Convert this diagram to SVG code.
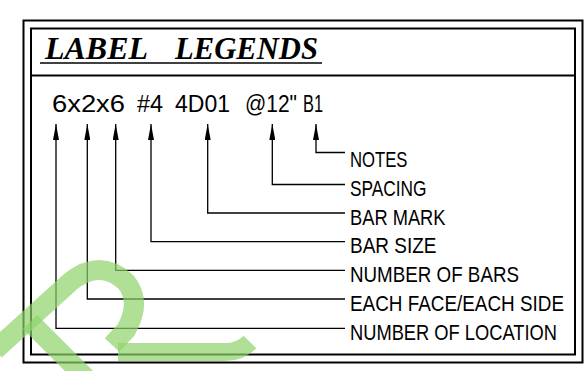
<svg xmlns="http://www.w3.org/2000/svg" width="588" height="371" viewBox="0 0 588 371">
<style>
.frame{fill:none;stroke:#000;stroke-width:2}
.conn{fill:none;stroke:#000;stroke-width:1.3}
.title{font-family:"Liberation Serif",serif;font-weight:bold;font-style:italic;font-size:32px;fill:#000}
.code{font-family:"Liberation Sans",Arial,sans-serif;font-size:23px;fill:#000}
.lbl{font-family:"Liberation Sans",Arial,sans-serif;font-size:19px;fill:#000}
</style>
<defs>
<marker id="arr" markerUnits="userSpaceOnUse" markerWidth="16" markerHeight="6" viewBox="0 0 16 6" refX="16" refY="3" orient="auto-start-reverse">
<path d="M0,0 L16,3 L0,6 z" fill="#000"/>
</marker>
</defs>
<rect fill="#fff" x="0" y="0" width="588" height="371"/>
<g id="frame">
<rect class="frame" x="23.5" y="20.5" width="559" height="342"/>
<rect class="frame" x="31" y="28.5" width="544" height="326"/>
<line class="frame" x1="31" y1="75.5" x2="575" y2="75.5"/>
</g>
<g id="title">
<text class="title" x="45" y="58.5" textLength="103" lengthAdjust="spacingAndGlyphs">LABEL</text>
<text class="title" x="175" y="58.5" textLength="143" lengthAdjust="spacingAndGlyphs">LEGENDS</text>
<line x1="40" y1="63" x2="322" y2="63" stroke="#000" stroke-width="1.5"/>
</g>
<g id="code">
<text class="code" x="52" y="112" textLength="73" lengthAdjust="spacingAndGlyphs">6x2x6</text>
<text class="code" x="137" y="112" textLength="26" lengthAdjust="spacingAndGlyphs">#4</text>
<text class="code" x="175" y="112" textLength="55" lengthAdjust="spacingAndGlyphs">4D01</text>
<text class="code" x="245" y="112" textLength="52" lengthAdjust="spacingAndGlyphs">@12"</text>
<text class="code" x="303" y="112" textLength="20" lengthAdjust="spacingAndGlyphs">B1</text>
</g>
<g id="connectors">
<path class="conn" marker-start="url(#arr)" d="M316,124 V152.5 H345"/>
<path class="conn" marker-start="url(#arr)" d="M272.3,124 V184.5 H345"/>
<path class="conn" marker-start="url(#arr)" d="M207.7,124 V213 H345"/>
<path class="conn" marker-start="url(#arr)" d="M151,124 V241.7 H345"/>
<path class="conn" marker-start="url(#arr)" d="M115.7,124 V270.3 H345"/>
<path class="conn" marker-start="url(#arr)" d="M87.3,124 V299 H345"/>
<path class="conn" marker-start="url(#arr)" d="M56,124 V328.3 H345"/>
</g>
<g id="labels">
<text class="lbl" transform="translate(350,166.5) scale(1,1.21)" textLength="57.5" lengthAdjust="spacingAndGlyphs">NOTES</text>
<text class="lbl" transform="translate(350,195.5) scale(1,1.21)" textLength="76.5" lengthAdjust="spacingAndGlyphs">SPACING</text>
<text class="lbl" transform="translate(350,224.5) scale(1,1.21)" textLength="95.5" lengthAdjust="spacingAndGlyphs">BAR MARK</text>
<text class="lbl" transform="translate(350,253) scale(1,1.21)" textLength="86.5" lengthAdjust="spacingAndGlyphs">BAR SIZE</text>
<text class="lbl" transform="translate(350,282) scale(1,1.21)" textLength="169" lengthAdjust="spacingAndGlyphs">NUMBER OF BARS</text>
<text class="lbl" transform="translate(350,311) scale(1,1.21)" textLength="214" lengthAdjust="spacingAndGlyphs">EACH FACE/EACH SIDE</text>
<text class="lbl" transform="translate(350,340) scale(1,1.21)" textLength="207" lengthAdjust="spacingAndGlyphs">NUMBER OF LOCATION</text>
</g>
<g id="watermark" fill="none" stroke="#8fd16a" stroke-opacity="0.7" stroke-linecap="butt">
<path stroke-width="20" d="M-5,350 L70,282 Q100,258 126,282 Q142,302 126,330 L112,345"/>
<path stroke-width="20" d="M30,322 L88,380"/>
<path stroke-width="18" d="M118,352 L225,352 Q240,352 250,342"/>
</g>
</svg>
